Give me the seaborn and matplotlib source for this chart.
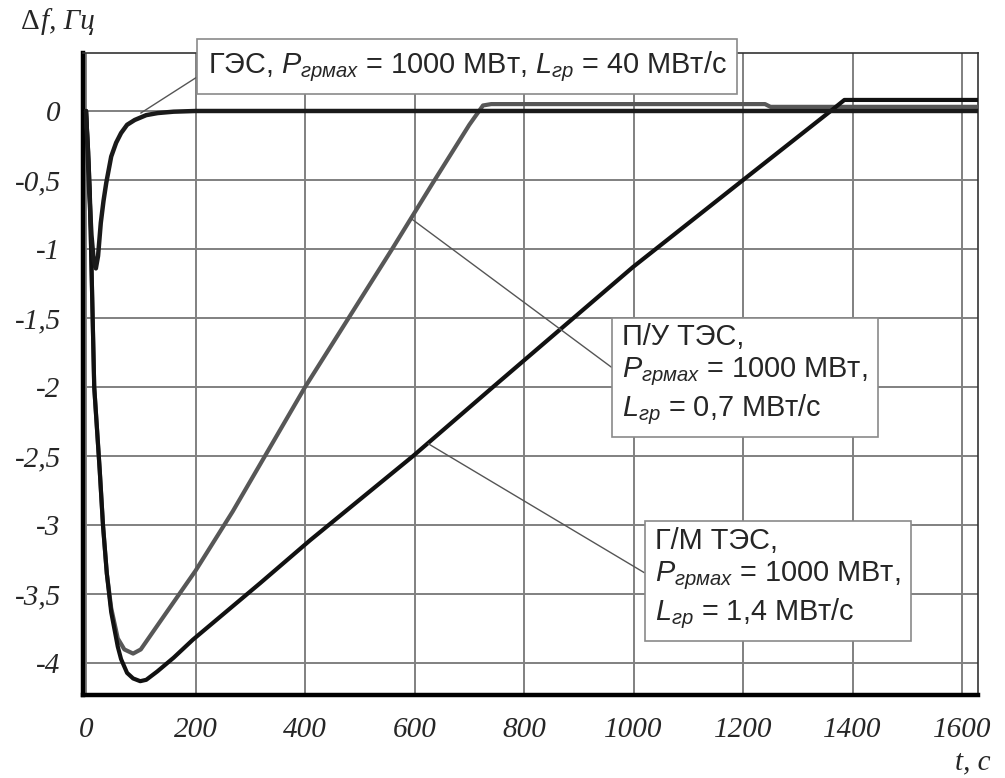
import matplotlib
matplotlib.use("Agg")
import matplotlib.pyplot as plt
import seaborn as sns
import numpy as np
import pandas as pd
from matplotlib.ticker import MultipleLocator, FixedLocator, FixedFormatter

sns.set_style("white")
plt.rcParams["font.family"] = ["Liberation Sans", "DejaVu Sans"]
plt.rcParams["mathtext.fontset"] = "custom"
plt.rcParams["mathtext.rm"] = "Liberation Sans"
plt.rcParams["mathtext.it"] = "Liberation Sans:italic"

# ГЭС
t_hes = [0, 3, 6, 10, 14, 18, 22, 27, 32, 37, 46, 55, 64, 75, 89, 110, 131, 160, 200, 400, 800, 1200, 1630]
df_hes = [0, -0.3, -0.6, -0.9, -1.08, -1.14, -1.05, -0.81, -0.65, -0.52, -0.33, -0.23, -0.16, -0.1,
          -0.065, -0.03, -0.015, -0.005, 0, 0, 0, 0, 0]

# П/У ТЭС
t_pu = [0, 4, 7, 11, 15, 20, 25, 31, 38, 46, 58, 70, 86, 100, 135, 200, 268, 400, 559, 632, 700, 725,
        740, 1240, 1250, 1630]
df_pu = [0, -0.3, -0.6, -1.3, -2.0, -2.3, -2.6, -3.0, -3.35, -3.6, -3.82, -3.9, -3.93, -3.9, -3.7,
         -3.33, -2.9, -2.0, -1.0, -0.53, -0.1, 0.04, 0.05, 0.05, 0.03, 0.03]

# Г/М ТЭС
t_gm = [0, 4, 7, 11, 15, 20, 25, 31, 38, 46, 58, 64, 75, 86, 99, 110, 130, 160, 195, 318, 409, 597,
        743, 999, 1200, 1360, 1385, 1630]
df_gm = [0, -0.3, -0.6, -1.3, -2.0, -2.3, -2.6, -3.0, -3.35, -3.63, -3.88, -3.97, -4.07, -4.11, -4.13,
         -4.12, -4.06, -3.96, -3.83, -3.42, -3.11, -2.5, -2.0, -1.13, -0.5, 0.0, 0.08, 0.08]

x_ticks = [0, 200, 400, 600, 800, 1000, 1200, 1400, 1600]
y_ticks = [0, -0.5, -1, -1.5, -2, -2.5, -3, -3.5, -4]
y_tick_labels = ["0", "-0,5", "-1", "-1,5", "-2", "-2,5", "-3", "-3,5", "-4"]

fig = plt.figure(figsize=(10.05, 7.78), dpi=100)
ax = fig.add_axes([83 / 1005, 1 - 695 / 778, (978 - 83) / 1005, (695 - 53) / 778])

sns.lineplot(x=t_hes, y=df_hes, ax=ax, color="#1a1a1a", lw=3.2, sort=False, zorder=4)
sns.lineplot(x=t_pu, y=df_pu, ax=ax, color="#575757", lw=3.0, sort=False, zorder=3)
sns.lineplot(x=t_gm, y=df_gm, ax=ax, color="#111111", lw=3.0, sort=False, zorder=3)

ax.set_xlim(-5.5, 1629)
ax.set_ylim(-4.23, 0.42)

ax.xaxis.set_major_locator(FixedLocator(x_ticks))
ax.xaxis.set_minor_locator(MultipleLocator(40))
ax.yaxis.set_major_locator(FixedLocator(y_ticks))
ax.yaxis.set_major_formatter(FixedFormatter(y_tick_labels))
ax.yaxis.set_minor_locator(MultipleLocator(0.25))

ax.grid(True, which="major", color="#808080", lw=1.4)
ax.set_axisbelow(True)

for lab in ax.get_xticklabels() + ax.get_yticklabels():
    lab.set_family("Liberation Serif")
    lab.set_style("italic")
    lab.set_fontsize(21)
ax.tick_params(which="major", direction="out", length=6, width=1, color="#666666", pad=10)
ax.tick_params(which="minor", direction="out", length=3, width=1, color="#666666")

for side in ["left", "bottom"]:
    ax.spines[side].set_linewidth(3.2)
    ax.spines[side].set_color("black")
for side in ["top", "right"]:
    ax.spines[side].set_linewidth(1.2)
    ax.spines[side].set_color("#333333")

ax.set_xlabel("")
ax.set_ylabel("")

box = dict(boxstyle="square,pad=0.35", fc="white", ec="#8a8a8a", lw=1.2)
arrow = dict(arrowstyle="-", color="#555555", lw=1.0, shrinkA=0, shrinkB=0)

ax.annotate(r"ГЭС, $P_{грмах}$ = 1000 МВт, $L_{гр}$ = 40 МВт/с",
            xy=(100, -0.015), xytext=(222, 0.32), fontsize=20.8, ha="left", va="center",
            bbox=box, arrowprops=dict(arrow, relpos=(0, 0.4)), zorder=6)
ax.annotate("П/У ТЭС,\n" + r"$P_{грмах}$ = 1000 МВт," + "\n" + r"$L_{гр}$ = 0,7 МВт/с",
            xy=(594, -0.78), xytext=(979, -1.913), fontsize=20.8, ha="left", va="center",
            linespacing=1.2, bbox=box, arrowprops=dict(arrow, relpos=(0, 0.5)), zorder=6)
ax.annotate("Г/М ТЭС,\n" + r"$P_{грмах}$ = 1000 МВт," + "\n" + r"$L_{гр}$ = 1,4 МВт/с",
            xy=(625, -2.41), xytext=(1039, -3.39), fontsize=20.8, ha="left", va="center",
            linespacing=1.2, bbox=box, arrowprops=dict(arrow, relpos=(0, 0.5)), zorder=6)

fig.text(21 / 1005, 1 - 22 / 778, "Δ", family="Liberation Serif", fontsize=21,
         ha="left", va="center")
fig.text(41 / 1005, 1 - 22 / 778, "f, Гц", family="Liberation Serif", style="italic",
         fontsize=21, ha="left", va="center")
fig.text(990 / 1005, 1 - 762 / 778, "t, c", family="Liberation Serif", style="italic",
         fontsize=21, ha="right", va="center")

fig.savefig("out.png", dpi=100, facecolor="white")
